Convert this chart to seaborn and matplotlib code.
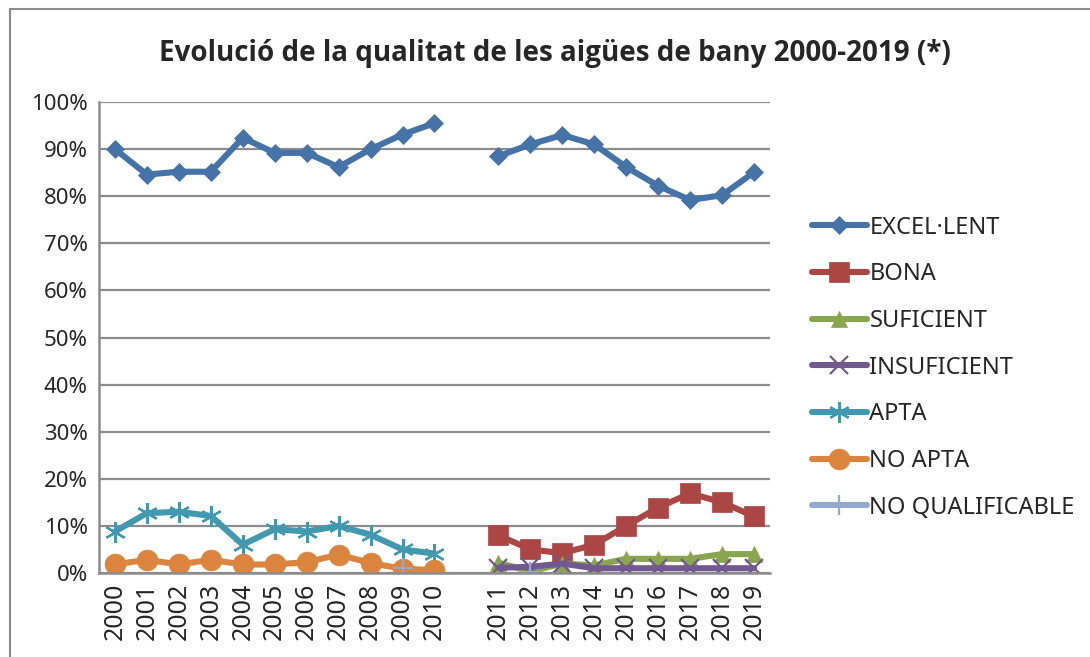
import numpy as np
import pandas as pd
import seaborn as sns
import matplotlib.pyplot as plt
from matplotlib.patches import Rectangle

nan = np.nan

years = list(range(2000, 2020))

excellent = [90, 84.6, 85.2, 85.2, 92.4, 89.2, 89.2, 86.2, 90, 93.1, 95.5,
             88.5, 91, 93, 91, 86.2, 82.2, 79.2, 80.2, 85.1]
bona = [nan] * 11 + [8, 5, 4.2, 6, 10, 13.9, 16.9, 15, 12]
suficient = [nan] * 11 + [2.2, 0.3, 2, 1.6, 3, 3, 3, 4, 4]
insuficient = [nan] * 11 + [1.1, 1.3, 2, 1, 1, 1, 1, 1, 1]
apta = [8.8, 12.7, 13, 12.1, 6, 9.3, 8.8, 10, 8.1, 5, 4.1] + [nan] * 9
no_apta = [1.8, 2.8, 1.8, 2.8, 1.8, 1.8, 2.3, 3.9, 2.1, 0.9, 0.6] + [nan] * 9
no_qualificable = [nan] * 9 + [1, nan] + [nan, 0.3] + [nan] * 7

series = [
    ("EXCEL·LENT", excellent, "#4572A7", "D", 9.5),
    ("BONA", bona, "#AA4643", "s", 14),
    ("SUFICIENT", suficient, "#89A54E", "^", 12),
    ("INSUFICIENT", insuficient, "#71588F", "x", 13),
    ("APTA", apta, "#4198AF", (6, 2, 0), 15),
    ("NO APTA", no_apta, "#DB843D", "o", 15),
    ("NO QUALIFICABLE", no_qualificable, "#93A9CF", "+", 14),
]

sns.set_style("white")
plt.rcParams['font.family'] = ['Noto Sans', 'DejaVu Sans']

fig = plt.figure(figsize=(10.9, 6.57), dpi=100)
ax = fig.add_axes([0.0908, 0.1279, 0.6156, 0.7168])

# position on the category axis: one empty slot between 2010 and 2011
pos = {y: (y - 2000) + (1 if y >= 2011 else 0) for y in years}

for name, vals, col, mk, ms in series:
    df = pd.DataFrame({"year": years, "v": vals})
    df["x"] = df["year"].map(pos)
    df["period"] = np.where(df["year"] >= 2011, 1, 0)
    first = True
    for p in (0, 1):
        seg = df[(df["period"] == p)].dropna()
        if len(seg) == 0:
            continue
        # split into runs without gaps
        runs = (seg["x"].diff() != 1).cumsum()
        for _, r in seg.groupby(runs):
            sns.lineplot(x=r["x"], y=r["v"], ax=ax, color=col, marker=mk,
                         markersize=ms, linewidth=4.4, markeredgecolor=col,
                         markeredgewidth=1.6 if mk in ("x", "+", (6, 2, 0)) else 0.5,
                         label=name if first else None, legend=False)
            first = False

ax.set_xlim(-0.5, 20.5)
ax.set_ylim(0, 100)
ax.set_yticks(range(0, 101, 10))
ax.set_yticklabels([f"{t}%" for t in range(0, 101, 10)], fontsize=16)
ax.set_xticks([pos[y] for y in years])
ax.set_xticklabels([str(y) for y in years], rotation=90, fontsize=18)
ax.tick_params(axis="y", length=0, pad=8)
ax.tick_params(axis="x", length=0, pad=7)
ax.set_xlabel("")
ax.set_ylabel("")
ax.yaxis.grid(True, color="#8c8c8c", linewidth=1.6)
ax.set_axisbelow(True)
for s in ("top", "right"):
    ax.spines[s].set_visible(False)
for s in ("left", "bottom"):
    ax.spines[s].set_color("#8c8c8c")
    ax.spines[s].set_linewidth(1.8)

h, l = ax.get_legend_handles_labels()
fig.legend(h, l, loc="center left", bbox_to_anchor=(0.725, 0.4406),
           frameon=False, fontsize=17, handlelength=2.35, labelspacing=0.96,
           handletextpad=0.1)

fig.text(0.509, 0.918, "Evolució de la qualitat de les aigües de bany 2000-2019 (*)",
         ha="center", va="center", fontsize=20, fontweight="bold",
         family=["Open Sans", "DejaVu Sans"])

fig.add_artist(Rectangle((10 / 1090, -0.1), 1.2, 1.1 - 9 / 657, transform=fig.transFigure,
                         fill=False, edgecolor="#8c8c8c", linewidth=1.5))

fig.savefig("out.png", dpi=100)
